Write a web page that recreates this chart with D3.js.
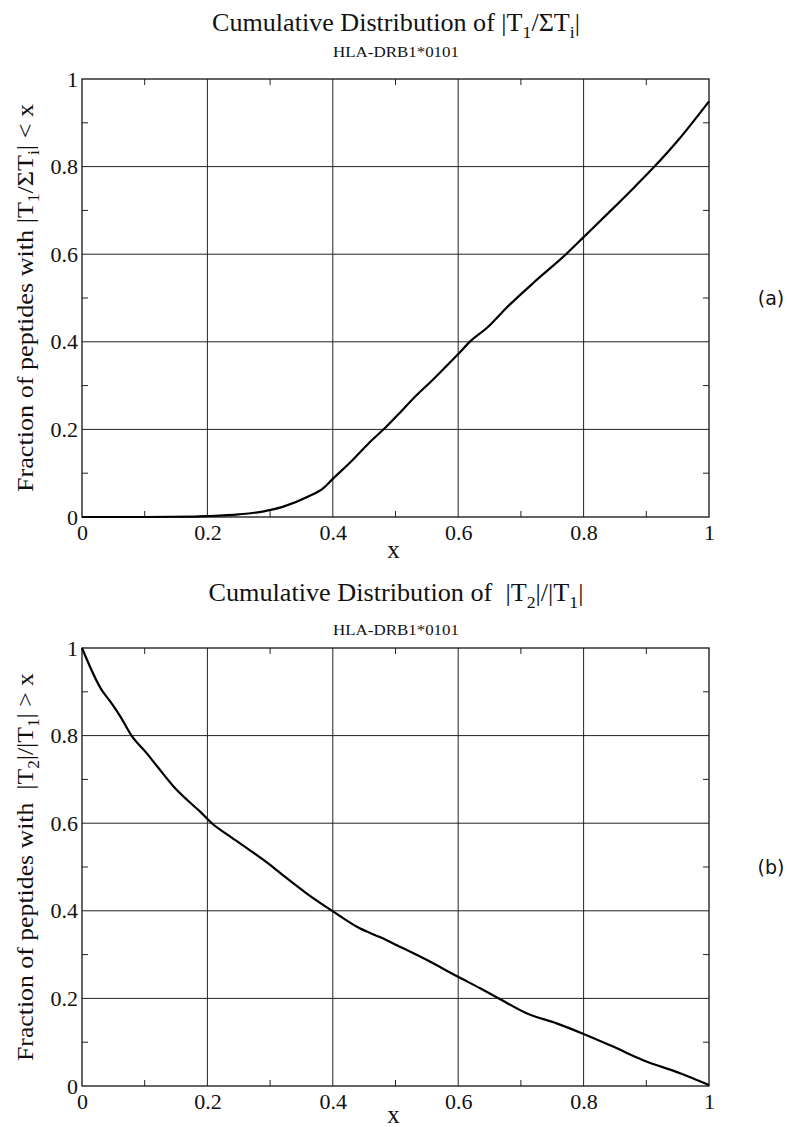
<!DOCTYPE html>
<html><head><meta charset="utf-8">
<script src="https://cdn.jsdelivr.net/npm/d3@7"></script>
<style>body{margin:0;background:#fff}svg{display:block}.serif{font-family:"Liberation Serif","Times New Roman",serif}</style>
</head><body><svg id="c" width="787" height="1127"></svg>
<script>
// ---- data ----
const majorTicks = [0, 0.2, 0.4, 0.6, 0.8, 1];
const minorTicks = [0.1, 0.3, 0.5, 0.7, 0.9];
const tickLabels = ["0", "0.2", "0.4", "0.6", "0.8", "1"];
const panelLetters = ["(a)", "(b)"];
const subtitleText = "HLA-DRB1*0101";

const cdfAX = [0, 0.1, 0.18, 0.2, 0.25, 0.29, 0.32, 0.36, 0.385, 0.4, 0.43, 0.457, 0.486, 0.507, 0.528, 0.56, 0.6, 0.62, 0.646, 0.678, 0.721, 0.772, 0.8, 0.838, 0.881, 0.913, 0.95, 1.0];
const cdfAY = [0, 0, 0.001, 0.002, 0.006, 0.013, 0.023, 0.046, 0.066, 0.087, 0.128, 0.168, 0.207, 0.238, 0.27, 0.314, 0.372, 0.402, 0.432, 0.479, 0.536, 0.6, 0.639, 0.692, 0.753, 0.8, 0.859, 0.949];

const cdfBX = [0, 0.031, 0.045, 0.061, 0.079, 0.103, 0.122, 0.146, 0.167, 0.188, 0.207, 0.236, 0.263, 0.30, 0.326, 0.358, 0.401, 0.443, 0.475, 0.507, 0.544, 0.599, 0.635, 0.667, 0.709, 0.757, 0.798, 0.847, 0.895, 0.954, 1.0];
const cdfBY = [1.0, 0.905, 0.878, 0.844, 0.80, 0.76, 0.726, 0.684, 0.654, 0.627, 0.60, 0.57, 0.543, 0.505, 0.475, 0.44, 0.398, 0.36, 0.34, 0.318, 0.292, 0.25, 0.223, 0.198, 0.166, 0.143, 0.12, 0.09, 0.059, 0.029, 0.002];

const titleA = [["Cumulative Distribution of |T"], ["1", 1], ["/ΣT"], ["i", 1], ["|"]];
const ylabA = [["Fraction of peptides with |T"], ["1", 1], ["/ΣT"], ["i", 1], ["| < x"]];
const titleB = [["Cumulative Distribution of  |T"], ["2", 1], ["|/|T"], ["1", 1], ["|"]];
const ylabB = [["Fraction of peptides with  |T"], ["2", 1], ["|/|T"], ["1", 1], ["| > x"]];

// ---- drawing ----
const svg = d3.select("#c");
svg.append("rect").attr("width", 787).attr("height", 1127).attr("fill", "#fff");

function richText(g, segs, subSize, shift) {
  let prevSub = false;
  segs.forEach(s => {
    const t = g.append("tspan").text(s[0]).style("white-space", "pre");
    if (s[1]) { t.attr("font-size", subSize).attr("dy", shift); }
    else if (prevSub) { t.attr("dy", -shift); }
    prevSub = !!s[1];
  });
}

function panel(cfg) {
  const x = d3.scaleLinear().domain([0, 1]).range([82, 709]);
  const y = d3.scaleLinear().domain([0, 1]).range([cfg.bottom, cfg.top]);
  const g = svg.append("g");

  // grid
  g.selectAll(".gx").data(majorTicks.slice(1, -1)).join("line")
    .attr("x1", d => x(d)).attr("x2", d => x(d)).attr("y1", y(0)).attr("y2", y(1))
    .attr("stroke", "#222").attr("stroke-width", 1);
  g.selectAll(".gy").data(majorTicks.slice(1, -1)).join("line")
    .attr("y1", d => y(d)).attr("y2", d => y(d)).attr("x1", x(0)).attr("x2", x(1))
    .attr("stroke", "#222").attr("stroke-width", 1);

  // minor inward ticks on all four sides
  const tl = 6;
  minorTicks.forEach(d => {
    g.append("line").attr("x1", x(d)).attr("x2", x(d)).attr("y1", y(0)).attr("y2", y(0) - tl).attr("stroke", "#222");
    g.append("line").attr("x1", x(d)).attr("x2", x(d)).attr("y1", y(1)).attr("y2", y(1) + tl).attr("stroke", "#222");
    g.append("line").attr("y1", y(d)).attr("y2", y(d)).attr("x1", x(0)).attr("x2", x(0) + tl).attr("stroke", "#222");
    g.append("line").attr("y1", y(d)).attr("y2", y(d)).attr("x1", x(1)).attr("x2", x(1) - tl).attr("stroke", "#222");
  });

  // frame
  g.append("rect").attr("x", x(0)).attr("y", y(1)).attr("width", x(1) - x(0)).attr("height", y(0) - y(1))
    .attr("fill", "none").attr("stroke", "#111").attr("stroke-width", 1.3);

  // curve
  const pts = cfg.xs.map((v, i) => [v, cfg.ys[i]]);
  g.append("path").datum(pts)
    .attr("d", d3.line().curve(d3.curveMonotoneX).x(d => x(d[0])).y(d => y(d[1])))
    .attr("fill", "none").attr("stroke", "#000").attr("stroke-width", 2.2).attr("stroke-linejoin", "round");

  // tick labels via axes
  const xa = d3.axisBottom(x).tickValues(majorTicks).tickFormat((d, i) => tickLabels[i]).tickSize(0).tickPadding(0);
  const xg = g.append("g").attr("transform", `translate(0,${y(0)})`).call(xa);
  xg.attr("font-family", null).attr("font-size", null);
  xg.select(".domain").remove();
  xg.selectAll("text").attr("class", "serif").attr("font-size", 22).attr("fill", "#111").attr("dy", null).attr("y", 23);

  const ya = d3.axisLeft(y).tickValues(majorTicks).tickFormat((d, i) => tickLabels[i]).tickSize(0).tickPadding(4);
  const yg = g.append("g").attr("transform", `translate(${x(0)},0)`).call(ya);
  yg.attr("font-family", null).attr("font-size", null);
  yg.select(".domain").remove();
  yg.selectAll("text").attr("class", "serif").attr("font-size", 22).attr("fill", "#111");

  // x axis title
  g.append("text").attr("class", "serif").attr("x", (x(0) + x(1)) / 2 - 2).attr("y", cfg.xLabY).attr("text-anchor", "middle")
    .attr("font-size", 25).attr("fill", "#111").text("x");

  // title
  const t = g.append("text").attr("class", "serif").attr("x", 396).attr("y", cfg.titleY).attr("text-anchor", "middle")
    .attr("font-size", 25).attr("fill", "#111")
    .attr("textLength", cfg.titleLen).attr("lengthAdjust", "spacingAndGlyphs");
  richText(t, cfg.title, 17, 7);

  g.append("text").attr("class", "serif").attr("x", 396).attr("y", cfg.subY).attr("text-anchor", "middle")
    .attr("font-size", 15).attr("fill", "#111")
    .attr("textLength", 126).attr("lengthAdjust", "spacingAndGlyphs").text(subtitleText);

  // y axis title
  const cy = (y(0) + y(1)) / 2;
  const yl = g.append("text").attr("class", "serif").attr("transform", `translate(33,${cy}) rotate(-90)`).attr("text-anchor", "middle")
    .attr("font-size", 24).attr("fill", "#111")
    .attr("textLength", 388).attr("lengthAdjust", "spacingAndGlyphs");
  richText(yl, cfg.ylab, 16, 6);

  // panel letter
  g.append("text").attr("x", 771).attr("y", cy + 7).attr("text-anchor", "middle")
    .style("font-family", "'DejaVu Sans',sans-serif").attr("font-size", 19).attr("fill", "#111").text(cfg.letter);
}

panel({ top: 79, bottom: 517, xs: cdfAX, ys: cdfAY, title: titleA, ylab: ylabA, titleY: 31, titleLen: 368, subY: 57, xLabY: 558, letter: panelLetters[0] });
panel({ top: 648, bottom: 1086, xs: cdfBX, ys: cdfBY, title: titleB, ylab: ylabB, titleY: 601, titleLen: 375, subY: 635, xLabY: 1123, letter: panelLetters[1] });
</script></body></html>
